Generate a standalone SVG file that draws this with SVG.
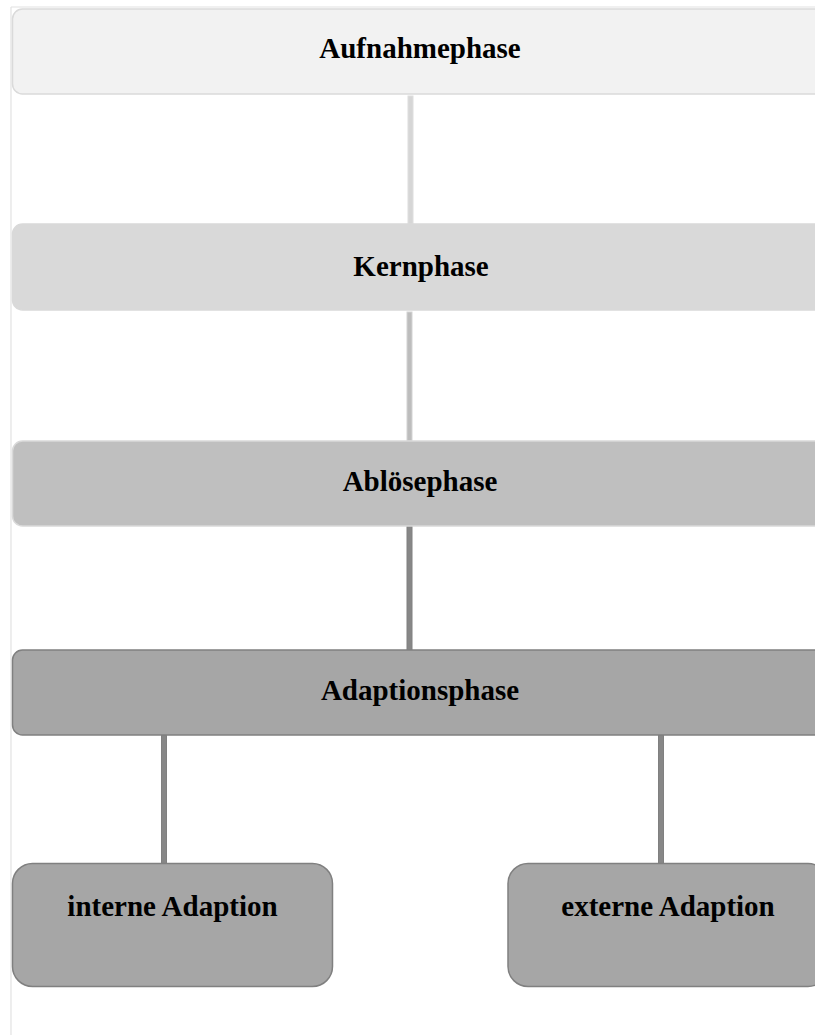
<svg xmlns="http://www.w3.org/2000/svg" width="815" height="1035" viewBox="0 0 815 1035">
<style>
.lbl{font-family:"Liberation Serif","Times New Roman",serif;font-weight:bold;font-size:29px;fill:#000;text-anchor:middle}
.box{stroke-width:1.5}
</style>
<rect x="0" y="0" width="815" height="1035" fill="#ffffff"/>
<g id="frame">
<line x1="11" y1="7" x2="11" y2="1035" stroke="#e2e2e2" stroke-width="1.2"/>
<line x1="11" y1="7" x2="815" y2="7" stroke="#e2e2e2" stroke-width="1.2"/>
</g>
<g id="connectors">
<rect x="408" y="96" width="5" height="128" fill="#d6d6d6" stroke="#dedede" stroke-width="1"/>
<rect x="407" y="312" width="5" height="129" fill="#bdbdbd" stroke="#d3d3d3" stroke-width="1"/>
<rect x="407" y="522" width="5" height="128" fill="#878787" stroke="#808080" stroke-width="1"/>
<rect x="161.5" y="735" width="5" height="128.5" fill="#878787" stroke="#808080" stroke-width="1"/>
<rect x="658.5" y="735" width="5" height="128.5" fill="#878787" stroke="#808080" stroke-width="1"/>
</g>
<g id="aufnahmephase">
<rect class="box" x="12.5" y="9" width="815" height="85" rx="10" fill="#f2f2f2" stroke="#dadada"/>
<text class="lbl" x="420" y="58">Aufnahmephase</text>
</g>
<g id="kernphase">
<rect class="box" x="12.5" y="224" width="815" height="86" rx="10" fill="#d9d9d9" stroke="#d9d9d9"/>
<text class="lbl" x="421" y="275.5">Kernphase</text>
</g>
<g id="abloesephase">
<rect class="box" x="12.5" y="441" width="815" height="85" rx="10" fill="#bfbfbf" stroke="#d9d9d9"/>
<text class="lbl" x="420" y="491">Ablösephase</text>
</g>
<g id="adaptionsphase">
<rect class="box" x="12.5" y="650" width="815" height="85" rx="10" fill="#a6a6a6" stroke="#808080"/>
<text class="lbl" x="420" y="700">Adaptionsphase</text>
</g>
<g id="interne">
<rect class="box" x="12.5" y="863.5" width="320" height="123" rx="20" fill="#a6a6a6" stroke="#808080"/>
<text class="lbl" x="172.5" y="916">interne Adaption</text>
</g>
<g id="externe">
<rect class="box" x="508" y="863.5" width="320" height="123" rx="20" fill="#a6a6a6" stroke="#808080"/>
<text class="lbl" x="668" y="916">externe Adaption</text>
</g>
</svg>
